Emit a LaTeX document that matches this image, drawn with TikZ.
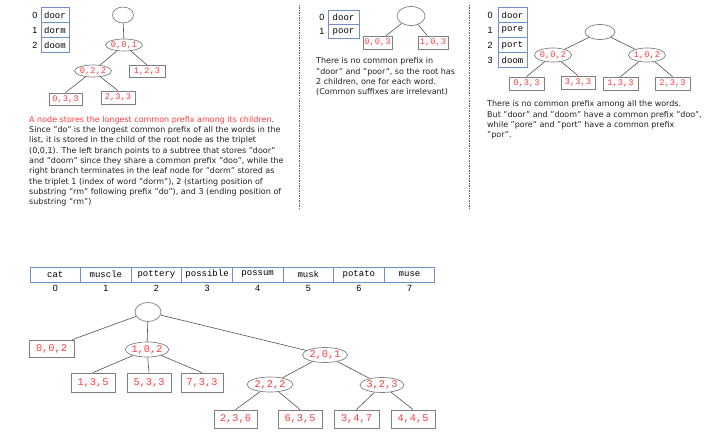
\documentclass[tikz,border=0pt]{standalone}
\usepackage{fontspec}
\setmainfont{DejaVu Sans}
\newfontfamily\monofont{Liberation Mono}
\newfontfamily\idxfont{Liberation Sans}
\usetikzlibrary{shapes.geometric}
\definecolor{lblred}{HTML}{FF3B3B}
\definecolor{bordergray}{HTML}{7F7F7F}
\definecolor{arrblue}{HTML}{6E92C8}
\definecolor{edgegray}{HTML}{505050}
\definecolor{sepgray}{HTML}{606060}
\definecolor{txt}{HTML}{202020}
\tikzset{
  ell/.style={ellipse, draw=bordergray, line width=0.7pt, inner sep=0pt, text=lblred},
  sm/.style={font=\monofont\fontsize{8.7}{10}\selectfont},
  lg/.style={font=\monofont\fontsize{10.3}{12}\selectfont},
  leaf/.style={rectangle, draw=bordergray, line width=0.8pt, inner sep=0pt, text=lblred},
  arr/.style={rectangle, draw=arrblue, line width=1pt, inner sep=0pt, font=\monofont\fontsize{9}{10}\selectfont},
  idx/.style={inner sep=0pt, font=\idxfont\fontsize{9}{10}\selectfont},
  edge/.style={draw=edgegray, line width=0.6pt},
  sep/.style={draw=sepgray, line width=0.8pt, dash pattern=on 1.5pt off 1pt},
  expl/.style={inner sep=0pt, align=left, anchor=north west, text=txt, font=\fontsize{8}{10.3}\selectfont}
}
\begin{document}
\begin{tikzpicture}[x=1pt, y=-1pt]
\useasboundingbox (0,0) rectangle (705,444);
% separators
\coordinate (s1a) at (299,5); \coordinate (s1b) at (299,209);
\coordinate (s2a) at (469,5); \coordinate (s2b) at (469,209);
\draw[sep] (s1a) -- (s1b);
\draw[sep] (s2a) -- (s2b);

% ---------- Panel 1 ----------
\node[arr, minimum width=28pt, minimum height=15pt] (a1r0) at (55,15.5) {door};
\node[arr, minimum width=28pt, minimum height=15pt] (a1r1) at (55,30.5) {dorm};
\node[arr, minimum width=28pt, minimum height=15pt] (a1r2) at (55,45.5) {doom};
\node[idx] (i1r0) at (35,15.5) {0};
\node[idx] (i1r1) at (35,30.5) {1};
\node[idx] (i1r2) at (35,45.5) {2};

\node[ell, minimum width=21pt, minimum height=16pt] (p1root) at (123,15) {};
\node[ell, sm, minimum width=36pt, minimum height=12pt] (p1n001) at (124,45) {0,0,1};
\node[ell, sm, minimum width=35pt, minimum height=12pt] (p1n022) at (93,71) {0,2,2};
\node[leaf, sm, minimum width=36pt, minimum height=12pt] (p1l123) at (147,71.5) {1,2,3};
\node[leaf, sm, minimum width=33pt, minimum height=12pt] (p1l033) at (65.5,99) {0,3,3};
\node[leaf, sm, minimum width=34pt, minimum height=13pt] (p1l233) at (118,97.5) {2,3,3};
\draw[edge] (p1root) -- (p1n001);
\draw[edge] (p1n001) -- (p1n022);
\draw[edge] (p1n001) -- (p1l123.north);
\draw[edge] (p1n022) -- (p1l033.north);
\draw[edge] (p1n022) -- (p1l233.north);

\node[expl] (t1) at (29,116) {\textcolor{lblred}{A node stores the longest common prefix among its children}.\\
Since "do" is the longest common prefix of all the words in the\\
list, it is stored in the child of the root node as the triplet\\
(0,0,1). The left branch points to a subtree that stores "door"\\
and "doom" since they share a common prefix "doo", while the\\
right branch terminates in the leaf node for "dorm" stored as\\
the triplet 1 (index of word "dorm"), 2 (starting position of\\
substring "rm" following prefix "do"), and 3 (ending position of\\
substring "rm")};

% ---------- Panel 2 ----------
\node[arr, minimum width=31pt, minimum height=14pt] (a2r0) at (343.5,17.7) {door};
\node[arr, minimum width=31pt, minimum height=14pt] (a2r1) at (343.5,31.7) {poor};
\node[idx] (i2r0) at (322,17.7) {0};
\node[idx] (i2r1) at (322,31.7) {1};

\node[ell, minimum width=28pt, minimum height=19pt] (p2root) at (411,16) {};
\node[leaf, sm, minimum width=29pt, minimum height=13pt] (p2l003) at (377.5,42.5) {0,0,3};
\node[leaf, sm, minimum width=30pt, minimum height=13pt] (p2l103) at (433,42.5) {1,0,3};
\draw[edge] (p2root) -- (p2l003);
\draw[edge] (p2root) -- (p2l103);

\node[expl] (t2) at (316,57.5) {There is no common prefix in\\
"door" and "poor", so the root has\\
2 children, one for each word.\\
(Common suffixes are irrelevant)};

% ---------- Panel 3 ----------
\node[arr, minimum width=29pt, minimum height=15pt] (a3r0) at (512.5,15.5) {door};
\node[arr, minimum width=29pt, minimum height=15pt] (a3r1) at (512.5,30.5) {pore};
\node[arr, minimum width=29pt, minimum height=15pt] (a3r2) at (512.5,45.5) {port};
\node[arr, minimum width=29pt, minimum height=15pt] (a3r3) at (512.5,60.5) {doom};
\node[idx] (i3r0) at (490,15.5) {0};
\node[idx] (i3r1) at (490,30.5) {1};
\node[idx] (i3r2) at (490,45.5) {2};
\node[idx] (i3r3) at (490,60.5) {3};

\node[ell, minimum width=30pt, minimum height=15pt] (p3root) at (600,32) {};
\node[ell, sm, minimum width=37pt, minimum height=14pt] (p3n002) at (553,55) {0,0,2};
\node[ell, sm, minimum width=36pt, minimum height=14pt] (p3n102) at (647,55) {1,0,2};
\node[leaf, sm, minimum width=35pt, minimum height=13pt] (p3l033) at (526.5,83.5) {0,3,3};
\node[leaf, sm, minimum width=34pt, minimum height=13pt] (p3l333) at (578,82.5) {3,3,3};
\node[leaf, sm, minimum width=35pt, minimum height=13pt] (p3l133) at (620.5,83.5) {1,3,3};
\node[leaf, sm, minimum width=35pt, minimum height=13pt] (p3l233) at (672.5,83.5) {2,3,3};
\draw[edge] (p3root) -- (p3n002);
\draw[edge] (p3root) -- (p3n102);
\draw[edge] (p3n002) -- (p3l033.north);
\draw[edge] (p3n002) -- (p3l333.north);
\draw[edge] (p3n102) -- (p3l133.north);
\draw[edge] (p3n102) -- (p3l233.north);

\node[expl] (t3) at (487,100.5) {There is no common prefix among all the words.\\
But "door" and "doom" have a common prefix "doo",\\
while "pore" and "port" have a common prefix\\
"por".};

% ---------- Bottom ----------
\foreach \w [count=\i from 0] in {cat,muscle,pottery,possible,possum,musk,potato,muse} {
  \node[arr, minimum width=50.6pt, minimum height=15pt] (tb\i) at (55.3+50.6*\i,274.5) {\w};
  \node[idx] (ti\i) at (55.3+50.6*\i,288.5) {\i};
}

\node[ell, minimum width=26pt, minimum height=19pt] (broot) at (148,312) {};
\node[leaf, lg, minimum width=45pt, minimum height=17pt] (b002) at (51.5,348.5) {0,0,2};
\node[ell, lg, minimum width=43pt, minimum height=15pt] (b102) at (147,349.5) {1,0,2};
\node[ell, lg, minimum width=45pt, minimum height=15pt] (b201) at (325,355) {2,0,1};
\node[leaf, lg, minimum width=44pt, minimum height=19pt] (b135) at (93,382.5) {1,3,5};
\node[leaf, lg, minimum width=44pt, minimum height=19pt] (b533) at (149,382.5) {5,3,3};
\node[leaf, lg, minimum width=42pt, minimum height=19pt] (b733) at (202,382.5) {7,3,3};
\node[ell, lg, minimum width=46pt, minimum height=15pt] (b222) at (270,384.5) {2,2,2};
\node[ell, lg, minimum width=44pt, minimum height=15pt] (b323) at (382,385) {3,2,3};
\node[leaf, lg, minimum width=43pt, minimum height=18pt] (b236) at (235.5,419) {2,3,6};
\node[leaf, lg, minimum width=44pt, minimum height=18pt] (b635) at (300,419) {6,3,5};
\node[leaf, lg, minimum width=45pt, minimum height=18pt] (b347) at (356.5,419) {3,4,7};
\node[leaf, lg, minimum width=44pt, minimum height=18pt] (b445) at (413,419) {4,4,5};

\draw[edge] (broot) -- ([xshift=-2pt]b002.north east);
\draw[edge] (broot) -- (b102);
\draw[edge] (broot) -- (b201);
\draw[edge] (b102) -- (b135.north);
\draw[edge] (b102) -- (b533.north);
\draw[edge] (b102) -- (b733.north);
\draw[edge] (b201) -- (b222);
\draw[edge] (b201) -- (b323);
\draw[edge] (b222) -- (b236.north);
\draw[edge] (b222) -- (b635.north);
\draw[edge] (b323) -- (b347.north);
\draw[edge] (b323) -- (b445.north);
\end{tikzpicture}
\end{document}
